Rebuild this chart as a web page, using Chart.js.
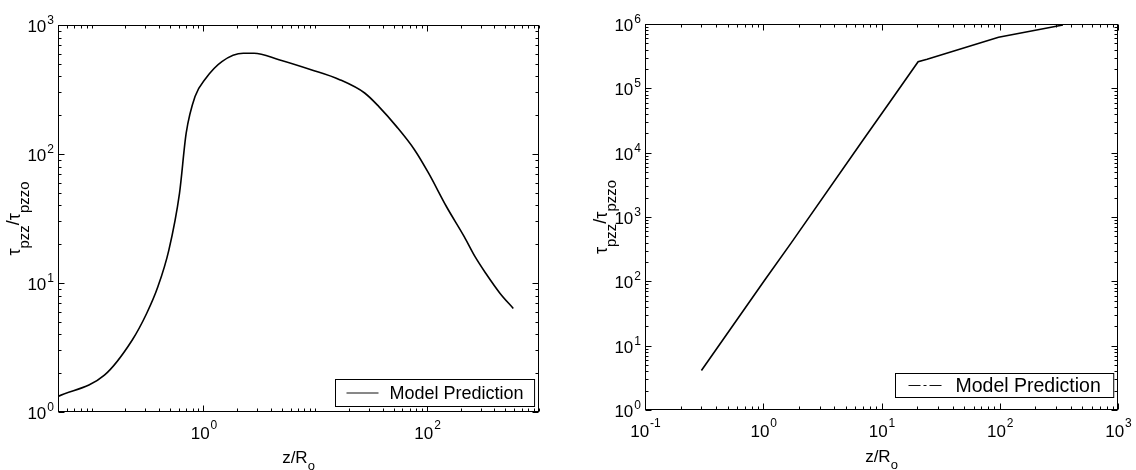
<!DOCTYPE html>
<html>
<head>
<meta charset="utf-8">
<script src="https://cdn.jsdelivr.net/npm/chart.js@4.4.0/dist/chart.umd.min.js"></script>
<style>
  html, body { margin: 0; padding: 0; background: #fff; }
  .wrap { display: flex; width: 1136px; height: 470px; }
  canvas { display: block; }
</style>
</head>
<body>
<div class="wrap">
  <canvas id="leftChart" width="568" height="470"></canvas>
  <canvas id="rightChart" width="568" height="470"></canvas>
</div>
<script>
// left panel: stress ratio vs z/Ro
const leftZ = [0.05, 0.13, 0.23, 0.31, 0.39, 0.49, 0.61, 0.70, 0.84, 1.05, 1.46, 2.27, 2.83, 4.73, 9.16, 16.5, 27.6, 37, 53.3, 77, 103, 149, 215, 268, 334, 449, 589];
const leftTau = [1.32, 1.93, 3.6, 5.8, 9.3, 18, 49.6, 145, 279, 387, 521, 604, 604, 538, 450, 377, 297, 233, 163, 108, 71, 39, 22.8, 16, 11.9, 8.3, 6.35];
const leftXTicks = [1, 100];
const leftYTicks = [1, 10, 100, 1000];

// right panel
const rightZ = [0.3, 1.03, 1.73, 6.96, 12.1, 20.4, 24.3, 97.7, 342];
const rightTau = [4.1, 105, 400, 15600, 66000, 259000, 283000, 621000, 966000];
const rightXTicks = [0.1, 1, 10, 100, 1000];
const rightYTicks = [1, 10, 100, 1e3, 1e4, 1e5, 1e6];

const seriesName = 'Model Prediction';
const FONT = '"Liberation Sans", Arial, Helvetica, sans-serif';

function logTicks(min, max) {
  const out = [];
  for (let d = Math.floor(Math.log10(min)); d <= Math.ceil(Math.log10(max)); d++) {
    for (let k = 1; k < 10; k++) {
      const v = k * Math.pow(10, d);
      if (v >= min * 0.999 && v <= max * 1.001) out.push(v);
    }
  }
  return out;
}

function isMajor(list, v) {
  return list.some(t => Math.abs(t - v) / t < 1e-6);
}

// "10" with a raised exponent
function powerLabel(ctx, value, x, y, side) {
  const exp = String(Math.round(Math.log10(value)));
  ctx.font = '17px ' + FONT;
  const bw = ctx.measureText('10').width;
  ctx.font = '12px ' + FONT;
  const ew = ctx.measureText(exp).width;
  let left, baseY, expY;
  if (side === 'y') {
    left = x - bw - ew - 1;
    baseY = y + 7;
    expY = y - 1;
  } else {
    left = x - (bw + ew) / 2;
    baseY = y + 27;
    expY = y + 17;
  }
  ctx.textAlign = 'left';
  ctx.textBaseline = 'alphabetic';
  ctx.font = '17px ' + FONT;
  ctx.fillText('10', left, baseY);
  ctx.font = '12px ' + FONT;
  ctx.fillText(exp, left + bw + 1, expY);
}

// draws a run of [text, size, drop] pieces centred on 0
function drawRuns(ctx, runs) {
  let total = 0;
  runs.forEach(r => { ctx.font = r[1] + 'px ' + FONT; r.w = ctx.measureText(r[0]).width; total += r.w; });
  let cx = -total / 2;
  runs.forEach(r => {
    ctx.font = r[1] + 'px ' + FONT;
    ctx.fillText(r[0], cx, r[2]);
    cx += r.w;
  });
}

const frame = {
  id: 'frame',
  afterDraw(chart, args, o) {
    const { ctx, chartArea: a, scales: { x, y } } = chart;
    ctx.save();
    ctx.strokeStyle = '#000';
    ctx.fillStyle = '#000';
    ctx.lineWidth = 1;
    const L = Math.round(a.left) + 0.5, R = Math.round(a.right) - 0.5;
    const T = Math.round(a.top) + 0.5, B = Math.round(a.bottom) - 0.5;
    ctx.strokeRect(L, T, R - L, B - T);

    ctx.beginPath();
    logTicks(x.min, x.max).forEach(v => {
      const px = Math.round(x.getPixelForValue(v)) + 0.5;
      const len = isMajor(o.xTicks, v) ? 6 : 3;
      ctx.moveTo(px, B); ctx.lineTo(px, B - len);
      ctx.moveTo(px, T); ctx.lineTo(px, T + len);
    });
    logTicks(y.min, y.max).forEach(v => {
      const py = Math.round(y.getPixelForValue(v)) + 0.5;
      const len = isMajor(o.yTicks, v) ? 6 : 3;
      ctx.moveTo(L, py); ctx.lineTo(L + len, py);
      ctx.moveTo(R, py); ctx.lineTo(R - len, py);
    });
    ctx.stroke();

    o.xTicks.forEach(v => powerLabel(ctx, v, x.getPixelForValue(v), a.bottom, 'x'));
    o.yTicks.forEach(v => powerLabel(ctx, v, a.left - 4, y.getPixelForValue(v), 'y'));

    // x title z/Ro
    ctx.save();
    ctx.translate((a.left + a.right) / 2, o.xTitleY);
    drawRuns(ctx, [['z/R', 17, 0], ['o', 13, 7]]);
    ctx.restore();

    // y title tau_pzz / tau_pzzo
    ctx.save();
    ctx.translate(o.yTitleX, (a.top + a.bottom) / 2);
    ctx.rotate(-Math.PI / 2);
    drawRuns(ctx, [['τ', 18, 0], ['pzz', 15, 9], ['/', 18, -1], ['τ', 18, 0], ['pzzo', 15, 9]]);
    ctx.restore();

    // legend box in the lower right corner
    const ds = chart.data.datasets[0];
    ctx.font = o.legendSize + 'px ' + FONT;
    const tw = ctx.measureText(ds.label).width;
    const pad = o.legendPad, sample = o.legendSample;
    const bw = pad + sample + pad + tw + pad;
    const bh = o.legendHeight;
    const bx = Math.round(a.right - o.legendInset[0] - bw) + 0.5;
    const by = Math.round(a.bottom - o.legendInset[1] - bh) + 0.5;
    ctx.fillStyle = '#fff';
    ctx.fillRect(bx, by, bw, bh);
    ctx.strokeRect(bx, by, bw, bh);
    const my = by + bh / 2;
    ctx.beginPath();
    ctx.setLineDash(o.legendDash);
    ctx.lineWidth = 1;
    ctx.strokeStyle = '#111';
    ctx.moveTo(bx + pad, my);
    ctx.lineTo(bx + pad + sample, my);
    ctx.stroke();
    ctx.setLineDash([]);
    ctx.fillStyle = '#000';
    ctx.textBaseline = 'middle';
    ctx.fillText(ds.label, bx + pad + sample + pad, my + 1);
    ctx.restore();
  }
};

function makeChart(id, zs, taus, xr, yr, pad, opts) {
  return new Chart(document.getElementById(id), {
    type: 'line',
    data: {
      datasets: [{
        label: seriesName,
        data: zs.map((z, i) => ({ x: z, y: taus[i] })),
        borderColor: '#000',
        borderWidth: 1.6,
        pointRadius: 0,
        fill: false,
        cubicInterpolationMode: opts.smooth ? 'monotone' : 'default',
        tension: 0
      }]
    },
    options: {
      responsive: false,
      animation: false,
      devicePixelRatio: 1,
      layout: { padding: pad },
      scales: {
        x: { type: 'logarithmic', min: xr[0], max: xr[1], display: false },
        y: { type: 'logarithmic', min: yr[0], max: yr[1], display: false }
      },
      plugins: {
        legend: { display: false },
        tooltip: { enabled: false },
        frame: opts
      }
    },
    plugins: [frame]
  });
}

makeChart('leftChart', leftZ, leftTau, [0.05, 1000], [1, 1000],
  { left: 58, right: 29, top: 25, bottom: 58 },
  { smooth: true, xTicks: leftXTicks, yTicks: leftYTicks, xTitleY: 463, yTitleX: 20,
    legendSize: 18, legendPad: 11, legendSample: 32, legendHeight: 27,
    legendInset: [5, 6], legendDash: [] });

makeChart('rightChart', rightZ, rightTau, [0.1, 1000], [1, 1e6],
  { left: 77, right: 18, top: 24, bottom: 60 },
  { smooth: false, xTicks: rightXTicks, yTicks: rightYTicks, xTitleY: 462, yTitleX: 39,
    legendSize: 19.5, legendPad: 13, legendSample: 34, legendHeight: 24,
    legendInset: [5, 13], legendDash: [12, 3, 3, 3] });
</script>
</body>
</html>
